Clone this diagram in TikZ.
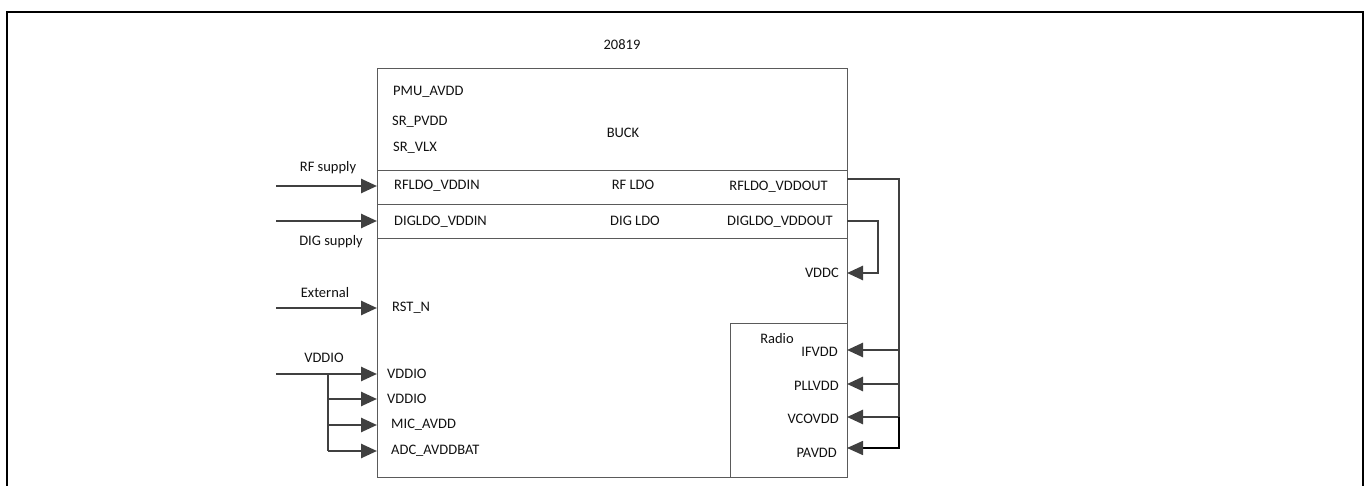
\documentclass[tikz,border=0pt]{standalone}
\usepackage{fontspec}
\setmainfont{Carlito}
\usetikzlibrary{arrows.meta}
\definecolor{wiregray}{HTML}{404040}
\definecolor{boxgray}{HTML}{5A5A5A}
\definecolor{txt}{HTML}{111111}
\begin{document}
\begin{tikzpicture}[x=1pt,y=-1pt,
  box/.style={draw=boxgray,line width=1.2pt,rectangle,inner sep=0pt,anchor=north west},
  lbl/.style={text=txt,font=\fontsize{14.5}{16}\selectfont,inner sep=0pt},
  lpin/.style={lbl,anchor=west},
  rpin/.style={lbl,anchor=east},
  wire/.style={draw=wiregray,line width=2.6pt},
  arr/.style={wire,-{Triangle[length=16pt,width=14pt]}},
  thinwire/.style={draw=black,line width=1.6pt,-{Triangle[length=16pt,width=14pt,color=wiregray]}}
]
\useasboundingbox (0,0) rectangle (1369,486);
\clip (0,0) rectangle (1369,486);
% outer frame
\draw[line width=2pt,black] (7,500) -- (7,12) -- (1363,12) -- (1363,500);
% title
\node[lbl] (title) at (622,45) {20819};
% boxes
\node[box,minimum width=470pt,minimum height=409pt] (main) at (377,68) {};
\node[box,minimum width=470pt,minimum height=34pt] (rfrow) at (377,170) {};
\node[box,minimum width=470pt,minimum height=34pt] (digrow) at (377,204) {};
\node[box,minimum width=117pt,minimum height=154pt] (radio) at (730,323) {};
% buck labels
\node[lpin] (pmu) at (393,92) {PMU\_AVDD};
\node[lpin] (srp) at (392,122) {SR\_PVDD};
\node[lpin] (srv) at (393,148) {SR\_VLX};
\node[lbl] (buck) at (623,133) {BUCK};
% rf ldo row
\node[lpin] (rfin) at (394,186) {RFLDO\_VDDIN};
\node[lbl] (rfldo) at (633,185) {RF LDO};
\node[rpin] (rfout) at (828,187) {RFLDO\_VDDOUT};
% dig ldo row
\node[lpin] (digin) at (394,222) {DIGLDO\_VDDIN};
\node[lbl] (digldo) at (635,221) {DIG LDO};
\node[rpin] (digout) at (833,222) {DIGLDO\_VDDOUT};
% other pins
\node[lpin] (rst) at (392,308) {RST\_N};
\node[lpin] (vddio1) at (387,374) {VDDIO};
\node[lpin] (vddio2) at (387,399) {VDDIO};
\node[lpin] (mic) at (391,425) {MIC\_AVDD};
\node[lpin] (adc) at (391,451) {ADC\_AVDDBAT};
\node[rpin] (vddc) at (839,273) {VDDC};
\node[lbl] (radiolbl) at (777,339) {Radio};
\node[rpin] (ifvdd) at (838,352) {IFVDD};
\node[rpin] (pllvdd) at (839,386) {PLLVDD};
\node[rpin] (vcovdd) at (839,419) {VCOVDD};
\node[rpin] (pavdd) at (837,453) {PAVDD};
% source labels
\node[lbl] (rfsup) at (328,168) {RF supply};
\node[lbl] (digsup) at (331,242) {DIG supply};
\node[lbl] (ext) at (325,293) {External};
\node[lbl] (iosup) at (324,358) {VDDIO};
% left connectors
\coordinate (rfsrc) at (276,186);
\coordinate (digsrc) at (276,221);
\coordinate (extsrc) at (276,308);
\coordinate (iosrc) at (276,374);
\coordinate (iobr) at (328,374);
\draw[arr] (rfsrc) -- (rfsrc -| main.west);
\draw[arr] (digsrc) -- (digsrc -| main.west);
\draw[arr] (extsrc) -- (extsrc -| main.west);
\draw[arr] (iosrc) -- (iosrc -| main.west);
\draw[wire] (iobr) -- (iobr |- adc.west);
\draw[arr] (iobr |- vddio2.west) -- (main.west |- vddio2.west);
\draw[arr] (iobr |- mic.west) -- (main.west |- mic.west);
\draw[arr] (iobr |- adc.west) -- (main.west |- adc.west);
% right connectors
\coordinate (rfo) at (847,179);
\coordinate (rfbus) at (899,179);
\coordinate (ifin) at (847,350);
\coordinate (pllin) at (847,384);
\coordinate (vcoin) at (847,417);
\coordinate (pain) at (847,448);
\coordinate (dgo) at (847,221);
\coordinate (dgbus) at (878,221);
\coordinate (vddcin) at (847,273);
\draw[wire,line join=miter] (rfo) -- (rfbus) -- (rfbus |- vcoin);
\draw[arr] (rfbus |- ifin) -- (ifin);
\draw[arr] (rfbus |- pllin) -- (pllin);
\draw[arr] (rfbus |- vcoin) -- (vcoin);
\draw[thinwire] (rfbus |- vcoin) -- (rfbus |- pain) -- (pain);
\draw[arr,line join=miter] (dgo) -- (dgbus) -- (dgbus |- vddcin) -- (vddcin);
\end{tikzpicture}
\end{document}
